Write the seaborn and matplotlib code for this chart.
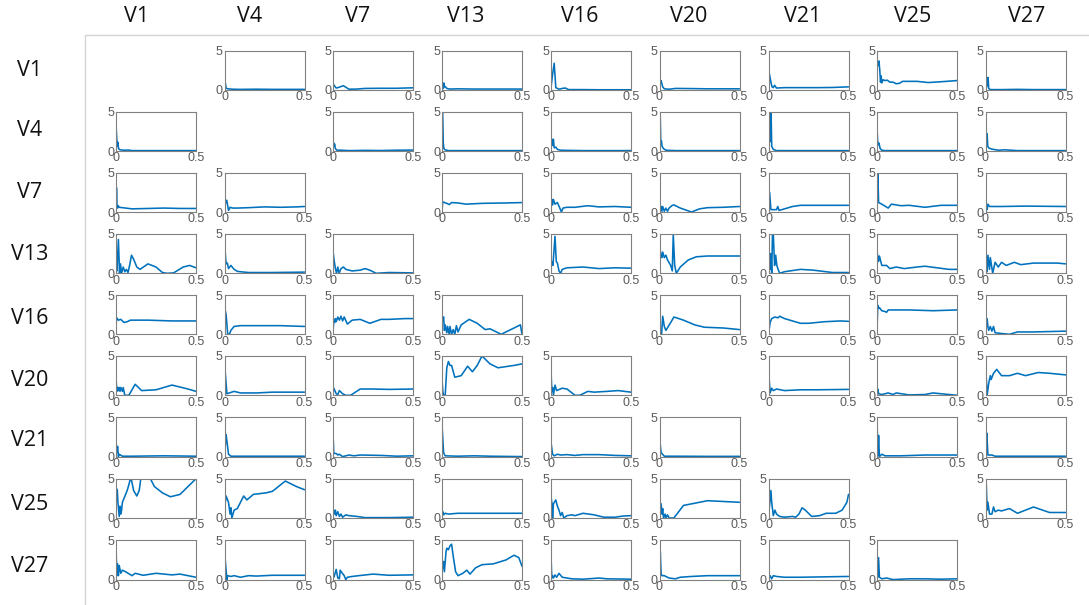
import matplotlib
matplotlib.use("Agg")
import matplotlib.pyplot as plt
import seaborn as sns
import pandas as pd

# ---------------- data ----------------
labels = ["V1", "V4", "V7", "V13", "V16", "V20", "V21", "V25", "V27"]
x_ticks = [0, 0.5]
x_tick_labels = ["0", "0.5"]
y_ticks = [0, 5]
y_tick_labels = ["0", "5"]

row_V1 = {
    "V4": [(0, 0.3), (0.003, 1.0), (0.006, 0.8), (0.01, 0.25), (0.02, 0.15), (0.05, 0.1), (0.1, 0.08), (0.2, 0.1), (0.3, 0.08), (0.4, 0.08), (0.5, 0.08)],
    "V7": [(0, 0.8), (0.01, 0.5), (0.02, 0.25), (0.03, 0.3), (0.045, 0.4), (0.065, 0.55), (0.08, 0.35), (0.1, 0.1), (0.15, 0.12), (0.2, 0.2), (0.3, 0.22), (0.4, 0.22), (0.5, 0.28)],
    "V13": [(0, 0.2), (0.005, 0.5), (0.008, 0.2), (0.012, 0.9), (0.016, 0.4), (0.022, 0.4), (0.03, 0.2), (0.05, 0.12), (0.1, 0.15), (0.2, 0.12), (0.3, 0.12), (0.4, 0.12), (0.5, 0.12)],
    "V16": [(0, 0.3), (0.01, 2.0), (0.02, 3.4), (0.03, 0.3), (0.05, 0.1), (0.07, 0.2), (0.09, 0.25), (0.11, 0.05), (0.2, 0.05), (0.3, 0.03), (0.5, 0.03)],
    "V20": [(0, 0.3), (0.005, 1.0), (0.01, 1.2), (0.02, 0.4), (0.03, 0.15), (0.06, 0.1), (0.1, 0.2), (0.2, 0.18), (0.3, 0.15), (0.4, 0.15), (0.5, 0.15)],
    "V21": [(0, 2.5), (0.008, 1.8), (0.015, 1.0), (0.022, 0.4), (0.03, 0.3), (0.038, 0.6), (0.045, 0.4), (0.05, 0.25), (0.1, 0.3), (0.2, 0.3), (0.3, 0.3), (0.4, 0.32), (0.5, 0.4)],
    "V25": [(0, 3.3), (0.006, 3.1), (0.012, 3.7), (0.017, 2.6), (0.022, 1.0), (0.026, 1.8), (0.03, 0.9), (0.038, 1.3), (0.05, 1.2), (0.065, 1.25), (0.08, 1.0), (0.1, 1.0), (0.12, 0.8), (0.14, 0.85), (0.16, 1.1), (0.25, 1.1), (0.32, 0.95), (0.4, 1.05), (0.5, 1.2)],
    "V27": [(0, 0.6), (0.005, 0.3), (0.01, 0.6), (0.016, 1.6), (0.02, 0.2), (0.03, 0.05), (0.1, 0.05), (0.2, 0.08), (0.3, 0.05), (0.5, 0.05)],
}
row_V4 = {
    "V1": [(0, 3.5), (0.004, 1.8), (0.008, 0.6), (0.012, 1.1), (0.016, 0.3), (0.025, 0.15), (0.05, 0.1), (0.08, 0.12), (0.1, 0.05), (0.3, 0.05), (0.5, 0.05)],
    "V7": [(0, 1.6), (0.005, 0.6), (0.01, 0.9), (0.015, 0.3), (0.025, 0.1), (0.05, 0.1), (0.1, 0.05), (0.2, 0.08), (0.3, 0.06), (0.4, 0.1), (0.5, 0.12)],
    "V13": [(0, 5.0), (0.004, 5.0), (0.008, 1.0), (0.012, 0.3), (0.02, 0.15), (0.04, 0.05), (0.1, 0.05), (0.3, 0.05), (0.5, 0.05)],
    "V16": [(0, 1.0), (0.006, 1.5), (0.01, 0.7), (0.015, 1.5), (0.02, 0.4), (0.03, 0.5), (0.04, 0.2), (0.06, 0.1), (0.1, 0.08), (0.2, 0.05), (0.5, 0.05)],
    "V20": [(0, 0.2), (0.004, 5.0), (0.008, 1.0), (0.012, 1.3), (0.016, 0.6), (0.025, 0.3), (0.04, 0.1), (0.1, 0.05), (0.5, 0.05)],
    "V21": [(0, 1.0), (0.005, 1.8), (0.008, 5.0), (0.012, 1.2), (0.016, 5.0), (0.02, 0.6), (0.03, 0.2), (0.05, 0.05), (0.5, 0.05)],
    "V25": [(0, 3.0), (0.004, 1.2), (0.008, 0.8), (0.012, 1.0), (0.02, 0.3), (0.03, 0.1), (0.05, 0.05), (0.5, 0.05)],
    "V27": [(0, 3.3), (0.006, 2.0), (0.01, 2.2), (0.014, 0.6), (0.02, 0.4), (0.03, 0.3), (0.05, 0.2), (0.08, 0.1), (0.12, 0.15), (0.2, 0.05), (0.5, 0.05)],
}
row_V7 = {
    "V1": [(0, 0.0), (0.003, 3.1), (0.006, 1.0), (0.01, 0.5), (0.014, 0.8), (0.02, 0.6), (0.04, 0.55), (0.06, 0.5), (0.1, 0.4), (0.2, 0.45), (0.3, 0.5), (0.4, 0.45), (0.5, 0.45)],
    "V4": [(0, 0.3), (0.008, 1.4), (0.014, 1.5), (0.02, 0.8), (0.025, 0.2), (0.035, 0.6), (0.05, 0.5), (0.08, 0.5), (0.15, 0.55), (0.25, 0.65), (0.35, 0.6), (0.45, 0.65), (0.5, 0.7)],
    "V13": [(0, 0.0), (0.004, 1.3), (0.015, 1.2), (0.03, 1.1), (0.045, 0.95), (0.06, 1.2), (0.1, 1.15), (0.15, 1.0), (0.25, 1.1), (0.4, 1.15), (0.5, 1.2)],
    "V16": [(0, 0.5), (0.005, 1.6), (0.01, 0.9), (0.015, 1.6), (0.025, 1.0), (0.04, 1.2), (0.055, 0.5), (0.065, 0.0), (0.075, 0.5), (0.1, 0.6), (0.15, 0.6), (0.23, 0.8), (0.3, 0.65), (0.4, 0.7), (0.5, 0.6)],
    "V20": [(0, 0.8), (0.005, 0.3), (0.01, 0.7), (0.015, 0.1), (0.02, 0.7), (0.03, 0.1), (0.04, 0.5), (0.05, 0.1), (0.06, 0.5), (0.08, 0.85), (0.09, 0.9), (0.13, 0.5), (0.2, 0.0), (0.25, 0.4), (0.3, 0.55), (0.4, 0.6), (0.5, 0.7)],
    "V21": [(0, 0.5), (0.007, 2.5), (0.015, 0.3), (0.05, 0.3), (0.058, 0.7), (0.066, 0.2), (0.1, 0.4), (0.15, 0.7), (0.2, 0.85), (0.3, 0.85), (0.5, 0.85)],
    "V25": [(0, 0.0), (0.005, 5.0), (0.01, 1.2), (0.03, 1.0), (0.07, 0.5), (0.09, 1.0), (0.15, 0.8), (0.2, 0.85), (0.3, 0.6), (0.4, 0.85), (0.5, 0.85)],
    "V27": [(0, 0.0), (0.005, 0.6), (0.01, 0.3), (0.015, 1.0), (0.025, 0.7), (0.1, 0.7), (0.25, 0.75), (0.5, 0.7)],
}
row_V13 = {
    "V1": [(0, 2.0), (0.006, 0.3), (0.015, 4.3), (0.022, 0.0), (0.028, 1.2), (0.035, 0.0), (0.045, 0.8), (0.055, 0.2), (0.065, 0.5), (0.075, 0.1), (0.085, 1.0), (0.097, 2.3), (0.11, 1.8), (0.13, 0.8), (0.15, 0.5), (0.2, 1.2), (0.25, 0.8), (0.29, 0.1), (0.32, 0.0), (0.36, 0.05), (0.42, 0.8), (0.46, 1.0), (0.5, 0.7)],
    "V4": [(0, 0.8), (0.005, 2.5), (0.01, 1.2), (0.018, 1.3), (0.025, 0.6), (0.04, 1.0), (0.06, 0.5), (0.08, 0.25), (0.1, 0.2), (0.15, 0.1), (0.3, 0.1), (0.5, 0.15)],
    "V7": [(0, 2.8), (0.008, 1.5), (0.016, 0.5), (0.022, 0.0), (0.03, 0.8), (0.038, 0.0), (0.05, 0.6), (0.065, 0.8), (0.08, 0.5), (0.12, 0.3), (0.17, 0.4), (0.2, 0.6), (0.23, 0.4), (0.27, 0.0), (0.35, 0.1), (0.5, 0.05)],
    "V16": [(0, 1.0), (0.005, 1.5), (0.012, 1.0), (0.025, 4.7), (0.033, 1.5), (0.04, 1.3), (0.05, 0.3), (0.06, 0.0), (0.07, 0.5), (0.1, 0.7), (0.2, 0.8), (0.3, 0.6), (0.4, 0.7), (0.5, 0.65)],
    "V20": [(0, 0.0), (0.003, 3.2), (0.01, 2.2), (0.015, 2.0), (0.02, 2.7), (0.03, 2.0), (0.04, 2.3), (0.05, 1.7), (0.07, 1.0), (0.08, 0.3), (0.086, 4.9), (0.095, 1.0), (0.105, 0.0), (0.13, 0.8), (0.18, 1.7), (0.23, 2.1), (0.3, 2.2), (0.5, 2.2)],
    "V21": [(0, 0.2), (0.005, 2.0), (0.01, 0.5), (0.015, 2.5), (0.02, 0.0), (0.025, 5.0), (0.03, 5.0), (0.038, 1.0), (0.045, 2.3), (0.052, 1.0), (0.06, 0.5), (0.07, 0.0), (0.1, 0.2), (0.2, 0.5), (0.28, 0.4), (0.4, 0.1), (0.5, 0.1)],
    "V25": [(0, 2.7), (0.01, 1.5), (0.015, 2.2), (0.03, 1.0), (0.06, 1.0), (0.08, 0.6), (0.12, 0.8), (0.17, 0.6), (0.25, 0.8), (0.3, 0.9), (0.45, 0.5), (0.5, 0.5)],
    "V27": [(0, 0.5), (0.005, 2.0), (0.01, 0.2), (0.015, 2.3), (0.025, 0.5), (0.03, 2.0), (0.045, 0.0), (0.06, 1.4), (0.08, 0.8), (0.1, 1.4), (0.13, 1.0), (0.18, 1.4), (0.22, 1.1), (0.3, 1.3), (0.45, 1.3), (0.5, 1.2)],
}
row_V16 = {
    "V1": [(0, 1.2), (0.005, 2.1), (0.015, 1.8), (0.03, 1.9), (0.05, 1.5), (0.07, 1.6), (0.09, 1.8), (0.2, 1.8), (0.35, 1.7), (0.5, 1.7)],
    "V4": [(0, 2.0), (0.005, 3.0), (0.01, 2.5), (0.02, 0.0), (0.03, 0.0), (0.04, 0.5), (0.06, 1.0), (0.1, 1.1), (0.2, 1.1), (0.35, 1.1), (0.5, 1.0)],
    "V7": [(0, 0.3), (0.005, 1.8), (0.01, 1.5), (0.015, 2.0), (0.02, 1.6), (0.03, 2.2), (0.04, 1.8), (0.05, 2.3), (0.06, 1.7), (0.07, 2.2), (0.09, 1.3), (0.12, 1.8), (0.17, 1.9), (0.23, 1.4), (0.3, 1.9), (0.35, 1.9), (0.45, 2.0), (0.5, 2.0)],
    "V13": [(0, 2.6), (0.005, 1.8), (0.01, 2.2), (0.015, 0.5), (0.02, 1.2), (0.03, 0.2), (0.035, 1.0), (0.045, 0.0), (0.05, 1.0), (0.06, 0.0), (0.07, 0.6), (0.08, 0.0), (0.09, 1.1), (0.1, 0.3), (0.12, 1.2), (0.17, 1.9), (0.22, 1.4), (0.27, 0.6), (0.3, 0.7), (0.37, 0.0), (0.42, 0.5), (0.49, 1.2), (0.5, 0.0)],
    "V20": [(0, 2.7), (0.005, 0.0), (0.013, 0.0), (0.02, 2.3), (0.03, 1.0), (0.04, 0.5), (0.07, 1.5), (0.09, 2.2), (0.15, 1.8), (0.22, 1.2), (0.28, 0.9), (0.4, 0.8), (0.5, 0.6)],
    "V21": [(0, 2.2), (0.005, 0.8), (0.01, 1.5), (0.02, 2.0), (0.04, 2.2), (0.06, 2.1), (0.07, 2.3), (0.1, 2.0), (0.15, 1.7), (0.2, 1.4), (0.25, 1.4), (0.35, 1.6), (0.45, 1.7), (0.5, 1.65)],
    "V25": [(0, 0.5), (0.005, 3.7), (0.01, 3.3), (0.015, 3.4), (0.03, 3.0), (0.05, 2.9), (0.06, 2.8), (0.07, 3.1), (0.2, 3.1), (0.35, 3.0), (0.5, 3.1)],
    "V27": [(0, 3.0), (0.005, 1.0), (0.01, 2.0), (0.015, 1.0), (0.02, 0.5), (0.03, 1.0), (0.04, 0.4), (0.05, 1.0), (0.06, 0.2), (0.1, 0.1), (0.15, 0.0), (0.2, 0.3), (0.3, 0.3), (0.5, 0.4)],
}
row_V20 = {
    "V1": [(0, 2.2), (0.005, 0.5), (0.01, 1.0), (0.015, 0.6), (0.02, 1.0), (0.025, 0.5), (0.03, 1.0), (0.04, 0.5), (0.045, 1.0), (0.055, 0.0), (0.08, 0.0), (0.12, 1.4), (0.16, 0.6), (0.25, 0.7), (0.35, 1.3), (0.45, 0.8), (0.5, 0.5)],
    "V4": [(0, 0.2), (0.005, 2.8), (0.015, 0.2), (0.03, 0.3), (0.06, 0.5), (0.1, 0.3), (0.2, 0.3), (0.3, 0.4), (0.5, 0.4)],
    "V7": [(0, 0.3), (0.005, 0.9), (0.02, 0.2), (0.03, 0.1), (0.04, 0.6), (0.06, 0.2), (0.08, 0.0), (0.11, 0.0), (0.14, 0.4), (0.17, 0.8), (0.25, 0.8), (0.35, 0.75), (0.5, 0.8)],
    "V13": [(0, 2.0), (0.005, 0.5), (0.01, 0.0), (0.02, 0.0), (0.03, 3.5), (0.04, 4.3), (0.05, 3.8), (0.06, 3.8), (0.08, 2.3), (0.12, 2.5), (0.16, 3.7), (0.19, 3.0), (0.22, 3.8), (0.25, 5.0), (0.3, 4.0), (0.35, 3.5), (0.45, 3.8), (0.5, 4.0)],
    "V16": [(0, 3.2), (0.005, 0.5), (0.01, 1.0), (0.015, 0.0), (0.025, 1.3), (0.035, 0.6), (0.07, 0.9), (0.1, 0.8), (0.15, 0.0), (0.18, 0.0), (0.23, 0.5), (0.27, 0.4), (0.35, 0.5), (0.42, 0.6), (0.5, 0.4)],
    "V21": [(0, 0.0), (0.005, 1.8), (0.01, 0.3), (0.02, 0.9), (0.03, 0.6), (0.05, 0.8), (0.1, 0.6), (0.2, 0.7), (0.3, 0.7), (0.5, 0.75)],
    "V25": [(0, 0.3), (0.005, 0.8), (0.01, 0.2), (0.03, 0.1), (0.07, 0.3), (0.1, 0.1), (0.12, 0.3), (0.2, 0.05), (0.3, 0.1), (0.35, 0.3), (0.5, 0.0)],
    "V27": [(0, 0.0), (0.005, 2.2), (0.01, 0.0), (0.02, 1.5), (0.03, 2.5), (0.035, 2.0), (0.05, 2.8), (0.07, 3.3), (0.1, 2.5), (0.15, 2.5), (0.2, 2.8), (0.25, 2.5), (0.33, 2.9), (0.4, 2.8), (0.5, 2.6)],
}
row_V21 = {
    "V1": [(0, 2.0), (0.005, 0.5), (0.01, 1.3), (0.015, 0.0), (0.02, 0.3), (0.04, 0.05), (0.1, 0.05), (0.3, 0.1), (0.5, 0.05)],
    "V4": [(0, 0.0), (0.01, 2.8), (0.015, 2.0), (0.025, 0.3), (0.04, 0.05), (0.1, 0.05), (0.5, 0.05)],
    "V7": [(0, 3.0), (0.005, 0.4), (0.02, 0.4), (0.03, 0.2), (0.04, 0.3), (0.06, 0.0), (0.1, 0.2), (0.13, 0.1), (0.17, 0.2), (0.3, 0.15), (0.4, 0.05), (0.5, 0.1)],
    "V13": [(0, 4.0), (0.01, 0.5), (0.02, 0.1), (0.1, 0.05), (0.2, 0.1), (0.3, 0.05), (0.5, 0.0)],
    "V16": [(0, 1.8), (0.01, 0.3), (0.02, 0.1), (0.04, 0.3), (0.06, 0.2), (0.1, 0.25), (0.15, 0.15), (0.2, 0.25), (0.3, 0.25), (0.4, 0.15), (0.5, 0.1)],
    "V20": [(0, 2.4), (0.01, 0.5), (0.03, 0.05), (0.1, 0.05), (0.3, 0.03), (0.5, 0.03)],
    "V25": [(0, 5.0), (0.005, 0.1), (0.01, 2.7), (0.015, 0.0), (0.03, 0.3), (0.05, 0.1), (0.15, 0.1), (0.3, 0.2), (0.5, 0.2)],
    "V27": [(0, 3.0), (0.005, 0.5), (0.008, 3.0), (0.015, 0.2), (0.04, 0.2), (0.06, 0.05), (0.2, 0.05), (0.5, 0.05)],
}
row_V25 = {
    "V1": [(0, 3.8), (0.008, 3.6), (0.012, 2.0), (0.02, 0.2), (0.025, 1.5), (0.03, 0.5), (0.035, 1.0), (0.04, 2.0), (0.05, 2.5), (0.06, 3.0), (0.07, 3.5), (0.08, 4.2), (0.09, 5.0), (0.095, 5.0), (0.11, 3.5), (0.13, 2.8), (0.145, 3.5), (0.155, 5.0), (0.17, 6.0), (0.2, 6.0), (0.215, 5.0), (0.24, 4.0), (0.29, 3.2), (0.34, 2.7), (0.4, 3.0), (0.45, 4.0), (0.5, 5.0)],
    "V4": [(0, 1.2), (0.01, 2.8), (0.025, 2.0), (0.035, 0.5), (0.04, 1.3), (0.046, 0.0), (0.06, 1.0), (0.08, 1.2), (0.1, 2.0), (0.12, 2.8), (0.14, 2.3), (0.18, 3.0), (0.26, 3.2), (0.3, 3.4), (0.38, 4.7), (0.45, 4.0), (0.5, 3.6)],
    "V7": [(0, 0.5), (0.005, 1.0), (0.01, 0.5), (0.015, 1.0), (0.02, 0.3), (0.03, 0.8), (0.04, 0.2), (0.05, 0.5), (0.06, 0.1), (0.08, 0.4), (0.1, 0.3), (0.15, 0.2), (0.2, 0.05), (0.35, 0.05), (0.5, 0.1)],
    "V13": [(0, 0.2), (0.005, 0.8), (0.01, 0.4), (0.02, 0.6), (0.04, 0.5), (0.1, 0.6), (0.3, 0.6), (0.5, 0.6)],
    "V16": [(0, 2.7), (0.005, 2.0), (0.01, 0.0), (0.015, 1.8), (0.03, 2.3), (0.04, 1.5), (0.05, 1.0), (0.06, 0.3), (0.07, 0.7), (0.08, 0.0), (0.1, 0.3), (0.13, 0.4), (0.15, 0.3), (0.2, 0.6), (0.27, 0.4), (0.33, 0.1), (0.4, 0.1), (0.45, 0.25), (0.5, 0.3)],
    "V20": [(0, 4.0), (0.005, 1.8), (0.01, 1.8), (0.015, 0.5), (0.02, 1.2), (0.025, 0.0), (0.035, 0.5), (0.04, 0.0), (0.05, 0.4), (0.06, 0.0), (0.09, 0.0), (0.12, 0.8), (0.15, 1.6), (0.2, 1.8), (0.3, 2.2), (0.4, 2.1), (0.5, 2.0)],
    "V21": [(0, 0.5), (0.005, 1.2), (0.015, 3.5), (0.02, 2.0), (0.03, 0.3), (0.04, 1.0), (0.05, 0.5), (0.07, 0.2), (0.1, 0.1), (0.15, 0.2), (0.17, 0.1), (0.19, 0.5), (0.21, 1.3), (0.23, 1.0), (0.27, 0.2), (0.32, 0.3), (0.36, 0.6), (0.42, 0.6), (0.46, 1.0), (0.49, 2.0), (0.5, 3.0)],
    "V27": [(0, 3.0), (0.005, 4.2), (0.01, 1.0), (0.015, 2.0), (0.025, 0.5), (0.04, 0.5), (0.05, 1.4), (0.06, 0.8), (0.08, 1.0), (0.1, 0.9), (0.15, 1.2), (0.2, 0.6), (0.25, 1.0), (0.3, 1.4), (0.4, 0.7), (0.5, 0.7)],
}
row_V27 = {
    "V1": [(0, 4.2), (0.005, 0.5), (0.01, 2.0), (0.015, 0.5), (0.02, 1.8), (0.03, 0.8), (0.04, 1.2), (0.06, 1.0), (0.1, 0.5), (0.12, 0.8), (0.17, 0.55), (0.25, 0.8), (0.35, 0.6), (0.4, 0.7), (0.5, 0.3)],
    "V4": [(0, 0.0), (0.005, 2.4), (0.015, 0.0), (0.02, 0.5), (0.04, 0.4), (0.06, 0.5), (0.1, 0.3), (0.15, 0.5), (0.2, 0.45), (0.3, 0.55), (0.5, 0.55)],
    "V7": [(0, 0.9), (0.005, 0.3), (0.01, 0.6), (0.02, 1.3), (0.03, 0.2), (0.04, 0.1), (0.045, 1.2), (0.055, 0.9), (0.07, 0.5), (0.08, 0.0), (0.09, 0.3), (0.12, 0.4), (0.16, 0.5), (0.25, 0.7), (0.35, 0.55), (0.5, 0.6)],
    "V13": [(0, 1.0), (0.01, 2.3), (0.015, 1.0), (0.025, 3.5), (0.03, 4.0), (0.04, 3.8), (0.05, 4.3), (0.06, 4.5), (0.07, 3.0), (0.085, 1.0), (0.1, 0.5), (0.13, 0.8), (0.155, 1.2), (0.175, 0.7), (0.21, 1.5), (0.25, 1.9), (0.32, 2.0), (0.4, 2.5), (0.45, 3.1), (0.48, 2.8), (0.5, 1.7)],
    "V16": [(0, 3.0), (0.005, 0.2), (0.01, 0.5), (0.015, 0.2), (0.025, 0.6), (0.035, 0.3), (0.05, 0.8), (0.07, 0.3), (0.1, 0.2), (0.13, 0.1), (0.2, 0.05), (0.3, 0.2), (0.35, 0.1), (0.5, 0.05)],
    "V20": [(0, 0.2), (0.005, 3.5), (0.01, 0.8), (0.015, 0.5), (0.03, 0.5), (0.06, 0.2), (0.1, 0.1), (0.13, 0.3), (0.2, 0.4), (0.3, 0.5), (0.5, 0.5)],
    "V21": [(0, 1.2), (0.005, 0.3), (0.01, 0.5), (0.02, 0.1), (0.03, 0.5), (0.05, 0.4), (0.1, 0.3), (0.2, 0.3), (0.35, 0.35), (0.5, 0.4)],
    "V25": [(0, 2.8), (0.005, 0.3), (0.01, 2.8), (0.015, 0.3), (0.03, 0.1), (0.06, 0.2), (0.1, 0.0), (0.2, 0.1), (0.3, 0.1), (0.4, 0.05), (0.5, 0.1)],
}
rows = {"V1": row_V1, "V4": row_V4, "V7": row_V7, "V13": row_V13, "V16": row_V16,
        "V20": row_V20, "V21": row_V21, "V25": row_V25, "V27": row_V27}

# ---------------- layout (pixels) ----------------
W, H = 1089, 605
col_left = [116, 224.5, 333, 442, 551, 659.5, 768.5, 877, 985.5]
ax_w = 80
row_top = [50.7, 111.7, 172.7, 234.0, 295.0, 356.0, 417.3, 478.7, 540.3]
ax_h = 39.3
header_x = [137, 250, 358, 466, 580, 689, 803, 913, 1027]
header_y = 17
label_x = 30
label_y = [71, 131, 192, 254, 318, 380, 441, 505, 567]

LINE = "#0072BD"
SPINE = "#808080"
TICK = "#5a5a5a"

sns.set_style("white")
plt.rcParams["font.family"] = ["Open Sans", "DejaVu Sans"]

fig = plt.figure(figsize=(W / 100, H / 100), dpi=100)

# separator lines
fig.add_artist(plt.Line2D([84.5 / W, 1.0], [1 - 34.5 / H, 1 - 34.5 / H], color="#d4d4d4", lw=1.0))
fig.add_artist(plt.Line2D([84.5 / W, 84.5 / W], [1 - 34.5 / H, 0.0], color="#d4d4d4", lw=1.0))

for j, lab in enumerate(labels):
    fig.text(header_x[j] / W, 1 - header_y / H, lab, ha="center", va="center",
             fontsize=15.5, color="#111111")
for i, lab in enumerate(labels):
    fig.text(label_x / W, 1 - label_y[i] / H, lab, ha="center", va="center",
             fontsize=15.5, color="#111111")

for i, rlab in enumerate(labels):
    row = rows[rlab]
    for j, clab in enumerate(labels):
        if clab not in row:
            continue
        pts = row[clab]
        df = pd.DataFrame(pts, columns=["f", "v"])
        ax = fig.add_axes([col_left[j] / W, 1 - (row_top[i] + ax_h) / H, ax_w / W, ax_h / H])
        sns.lineplot(data=df, x="f", y="v", ax=ax, color=LINE, lw=1.15,
                     estimator=None, sort=False)
        ax.set_xlim(0, 0.5)
        ax.set_ylim(0, 5)
        ax.set_xticks(x_ticks)
        ax.set_xticklabels(x_tick_labels)
        ax.set_yticks(y_ticks)
        ax.set_yticklabels(y_tick_labels)
        ax.set_xlabel("")
        ax.set_ylabel("")
        ax.tick_params(axis="both", length=0, pad=1.2, labelcolor=TICK)
        ax.tick_params(axis="x", pad=1.0)
        for t in ax.get_xticklabels() + ax.get_yticklabels():
            t.set_fontfamily(["Liberation Sans", "DejaVu Sans"])
            t.set_fontsize(9)
        for s in ax.spines.values():
            s.set_visible(True)
            s.set_color(SPINE)
            s.set_linewidth(0.8)
        ax.grid(False)

fig.savefig("out.png", dpi=100, facecolor="white")
